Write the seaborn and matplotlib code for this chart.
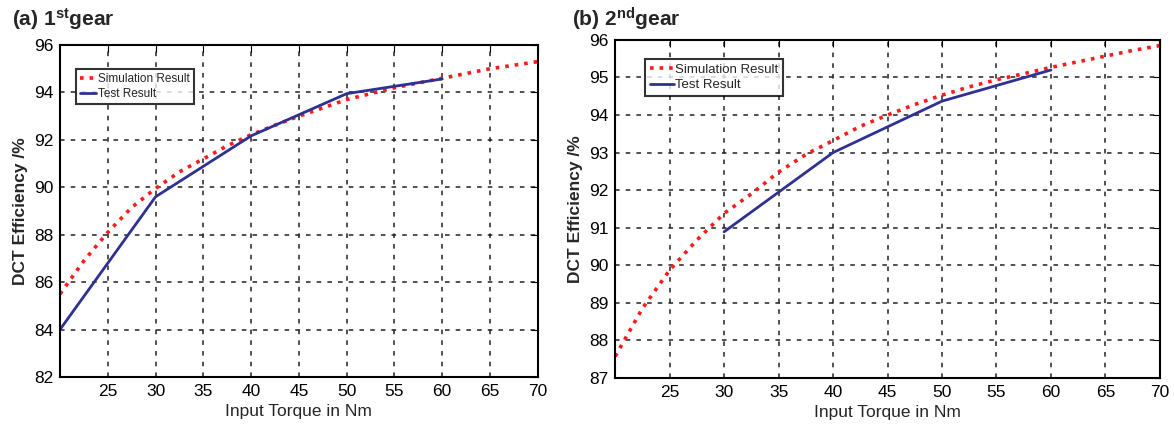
import numpy as np
import pandas as pd
import seaborn as sns
import matplotlib.pyplot as plt

# data
torque_sim = [20, 22.5, 25, 27.5, 30, 32.5, 35, 37.5, 40, 42.5, 45, 47.5,
              50, 52.5, 55, 57.5, 60, 62.5, 65, 67.5, 70]
sim_1st = [85.5, 86.9, 88.1, 89.15, 89.95, 90.65, 91.2, 91.75, 92.22, 92.62,
           93.0, 93.35, 93.7, 93.95, 94.2, 94.4, 94.6, 94.8, 95.0, 95.15, 95.3]
sim_2nd = [87.57, 88.85, 89.87, 90.67, 91.38, 91.9, 92.48, 92.95, 93.32,
           93.7, 94.0, 94.28, 94.53, 94.75, 94.94, 95.1, 95.27, 95.42, 95.57,
           95.72, 95.85]

torque_test_1st = [20, 30, 40, 50, 60]
test_1st = [84.0, 89.6, 92.17, 93.95, 94.57]
torque_test_2nd = [30, 40, 50, 60]
test_2nd = [90.89, 93.0, 94.37, 95.2]

xticks = [25, 30, 35, 40, 45, 50, 55, 60, 65, 70]
yticks_1st = [82, 84, 86, 88, 90, 92, 94, 96]
yticks_2nd = [87, 88, 89, 90, 91, 92, 93, 94, 95, 96]

sns.set_style("white")
plt.rcParams['font.family'] = ['Liberation Sans', 'DejaVu Sans']
plt.rcParams['mathtext.fontset'] = 'custom'
plt.rcParams['mathtext.rm'] = 'Liberation Sans'
plt.rcParams['mathtext.bf'] = 'Liberation Sans:bold'

fig = plt.figure(figsize=(11.74, 4.25), dpi=100)
ax1 = fig.add_axes([0.0511, 0.113, 0.407, 0.781])
ax2 = fig.add_axes([0.524, 0.111, 0.464, 0.795])


def panel(ax, sim, tx, ty, yticks, ylim):
    sns.lineplot(x=torque_sim, y=sim, ax=ax, color='#ff1a1a', linestyle=':',
                 linewidth=2.6, label='Simulation Result')
    sns.lineplot(x=tx, y=ty, ax=ax, color='#2e3192', linewidth=2,
                 label='Test Result')
    ax.set_xlim(20, 70)
    ax.set_ylim(*ylim)
    ax.set_xticks(xticks)
    ax.set_yticks(yticks)
    ax.grid(True, color='#222222', linestyle=(0, (3, 4)), linewidth=1.1)
    ax.tick_params(direction='in', length=5, labelsize=12.5, colors='black',
                   top=True, right=True, pad=5)
    for s in ax.spines.values():
        s.set_color('black')
        s.set_linewidth(1.5)
    ax.set_xlabel('Input Torque in Nm', fontsize=12.5, labelpad=4)
    ax.set_ylabel('DCT Efficiency /%', fontsize=12.5, fontweight='bold',
                  labelpad=4)


panel(ax1, sim_1st, torque_test_1st, test_1st, yticks_1st, (82, 96))
panel(ax2, sim_2nd, torque_test_2nd, test_2nd, yticks_2nd, (87, 96))

leg1 = ax1.legend(loc='upper left', bbox_to_anchor=(0.033, 0.928), fontsize=8.5,
                  frameon=True, fancybox=False, handlelength=1.4,
                  handletextpad=0.15, borderpad=0.35, labelspacing=0.25,
                  borderaxespad=0)
leg2 = ax2.legend(loc='upper left', bbox_to_anchor=(0.055, 0.944), fontsize=9.5,
                  frameon=True, fancybox=False, handlelength=1.8,
                  handletextpad=0.15, borderpad=0.35, labelspacing=0.25,
                  borderaxespad=0)
for leg in (leg1, leg2):
    leg.get_frame().set_edgecolor('black')
    leg.get_frame().set_linewidth(1.5)

fig.text(0.01, 0.955, r'(a) $\mathbf{1^{st}}$gear', fontsize=15,
         fontweight='bold', va='center')
fig.text(0.487, 0.955, r'(b) $\mathbf{2^{nd}}$gear', fontsize=15,
         fontweight='bold', va='center')

fig.savefig('out.png', dpi=100)
